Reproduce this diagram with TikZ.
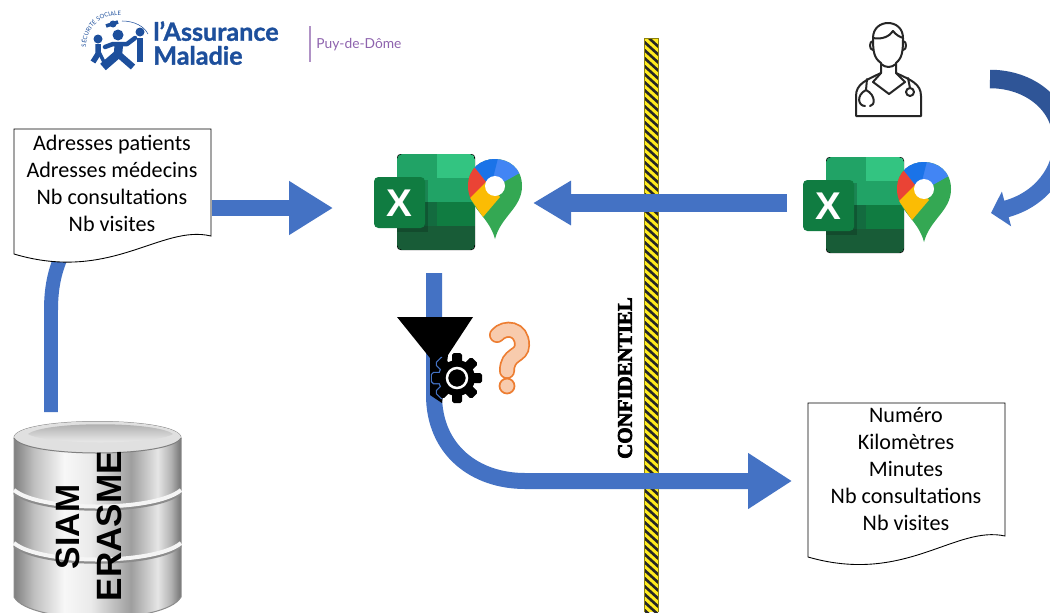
\documentclass[tikz,border=0pt]{standalone}
\usepackage{fontspec}
\setmainfont{Carlito}
\newfontfamily\logofont{Lato}
\newfontfamily\logofat[FakeBold=1.2]{Lato}
\newfontfamily\dbfont{Liberation Sans}
\newfontfamily\fatfont[FakeBold=3.6]{Liberation Serif}
\usetikzlibrary{arrows.meta,decorations.text}
\definecolor{arrowblue}{HTML}{4472C4}
\definecolor{arrowdark}{HTML}{2F5597}
\definecolor{logoblue}{HTML}{1D4F9C}
\definecolor{logopurple}{HTML}{8E63AE}
\definecolor{hazardyellow}{HTML}{FFEB1E}
\definecolor{askline}{HTML}{ED7D31}
\definecolor{askfill}{HTML}{F8CBAD}
\pgfdeclarehorizontalshading{silverdb}{100bp}{
	color(0bp)=(black!50); color(25bp)=(black!50); color(31bp)=(black!25);
	color(40bp)=(black!3); color(48bp)=(black!8); color(60bp)=(black!38);
	color(68bp)=(black!10); color(72bp)=(black!30); color(75bp)=(black!55); color(100bp)=(black!55)}
\tikzset{
	bigarrow/.style={draw=arrowblue,line width=.32cm},
	paper/.style={draw=black,fill=white,line width=.5pt},
	papertext/.style={align=center,font=\fontsize{12.6}{15.4}\selectfont},
	dbtext/.style={rotate=90,font=\dbfont\bfseries\fontsize{20}{20}\selectfont},
	docline/.style={draw=black!85,line width=.04cm,line cap=round,line join=round},
	excelmaps/.pic={
		\fill[rounded corners=2pt,fill=black] (0,0) rectangle (78,96);
		\begin{scope}
			\clip[rounded corners=3pt] (0,0) rectangle (78,96);
			\fill[fill={rgb,255:red,33;green,163;blue,102}] (0,0) rectangle (40,48);
			\fill[fill={rgb,255:red,51;green,196;blue,129}] (40,0) rectangle (78,24);
			\fill[fill={rgb,255:red,33;green,163;blue,102}] (40,24) rectangle (78,48);
			\fill[fill={rgb,255:red,19;green,107;blue,63}] (0,48) rectangle (40,72);
			\fill[fill={rgb,255:red,16;green,124;blue,65}] (40,48) rectangle (78,72);
			\fill[fill={rgb,255:red,24;green,92;blue,55}] (0,72) rectangle (78,96);
			\fill[black,opacity=.18] (0,26) rectangle (31,78);
		\end{scope}
		\fill[rounded corners=2.5pt,fill={rgb,255:red,16;green,124;blue,65}] (-23,23) rectangle (28,74);
		\node (excelx) [white,font=\dbfont\bfseries\fontsize{22}{22}\selectfont] at (2.5,49) {X};
		\begin{scope}[shift={(98,32)}]
			\begin{scope}
				\clip (-27,0) .. controls (-27,-36) and (27,-36) .. (27,0) .. controls (27,22) and (6,30) .. (0,53) .. controls (-6,30) and (-27,22) .. (-27,0) -- cycle;
				\fill[fill={rgb,255:red,52;green,168;blue,83}] (-30,-30) rectangle (30,55);
				\fill[fill={rgb,255:red,66;green,133;blue,244}] (-20,-18) -- (-9,-4) -- (0,0) -- (7,-3) -- (30,-16) -- (30,-40) -- (-25,-40) -- cycle;
				\fill[fill={rgb,255:red,26;green,115;blue,232}] (-20,-18) -- (-9,-4) -- (-2,-8) -- (6,-40) -- (-25,-40) -- cycle;
				\fill[fill={rgb,255:red,234;green,67;blue,53}] (-20,-18) -- (-9,-4) -- (-25,14) -- (-35,10) -- (-35,-20) -- cycle;
				\fill[fill={rgb,255:red,251;green,188;blue,4}] (-25,12) -- (-9,-4) -- (5,11) -- (-12,31) -- cycle;
			\end{scope}
			\fill[white] (0,0) circle (10);
		\end{scope}
	}
}
\begin{document}
\begin{tikzpicture}[x=.02cm,y=-.02cm]
	\useasboundingbox (0,0) rectangle (1050,612);
	\clip (0,0) rectangle (1050,612);
	\fill[white] (0,0) rectangle (1050,612);

	% logo
	\begin{scope}[logoblue]
		\fill (118,35) circle (5.5);
		\fill (140,32) circle (4.5);
		\fill (98,39) circle (4.5);
		\fill (113,24) circle (3.5);
		\draw[line width=.09cm,line cap=round,line join=round] (105,47) -- (113,44) -- (127,44) -- (135,38);
		\draw[line width=.17cm,line join=round] (119,43) -- (118,54) -- (103,67);
		\draw[line width=.13cm,line join=round] (118,54) -- (133,67);
		\draw[line width=.13cm] (140,38) -- (140,62);
		\draw[line width=.11cm] (98,44) -- (98,54) -- (93,62);
		\draw[line width=.07cm] (98,50) -- (104,62);
		\draw[line width=.07cm] (106,26) -- (118,22);
		\draw[line width=.3pt] (122,21) .. controls (134,21) and (144,26) .. (148,34);
	\end{scope}
	\path[decorate,decoration={text along path,text={|\logofont\fontsize{3.4}{3.4}\selectfont\color{logoblue}|SÉCURITÉ SOCIALE},text align=center}]
		(86,46) .. controls (87,28) and (100,15) .. (120,15);
	\node (assurance) [anchor=north west,inner sep=0pt,align=left,text=logoblue,font=\logofat\bfseries\fontsize{14.3}{13.6}\selectfont] at (153,21) {l’Assurance\\Maladie};
	\draw[logopurple!70,line width=.03cm] (310,26) -- (310,62);
	\node (puy) [anchor=west,inner sep=0pt,text=logopurple,font=\logofont\fontsize{7.85}{10}\selectfont] at (316,45) {Puy-de-Dôme};

	% confidentiel
	\fill[hazardyellow] (644,38) rectangle (658,612);
	\begin{scope}
		\clip (644,38) rectangle (658,612);
		\foreach \i in {0,...,72}{
			\draw[black!85,line width=.052cm] (640,30+\i*8) -- (662,50+\i*8);
		}
	\end{scope}
	\draw[black!45!hazardyellow,line width=.02cm] (644,38) -- (644,612) (658,612) -- (658,38) -- (644,38);
	\node (conf) [rotate=90,inner sep=0pt,font=\fatfont\bfseries\fontsize{11.9}{12}\selectfont] at (625,378) {CONFIDENTIEL};

	% base
	\draw[arrowblue,line width=.28cm] (51,412) -- (51,310) .. controls (51,290) and (54,272) .. (62,255);
	\path[shading=silverdb,draw=black!45,line width=.02cm] (14,438) -- (14,597) .. controls (30,625) and (165,625) .. (181,597) -- (181,438) .. controls (181,416) and (14,416) .. (14,438) -- cycle;
	\fill[black!12] (14,438) .. controls (25,458) and (170,458) .. (181,438) .. controls (181,416) and (14,416) .. (14,438) -- cycle;
	\draw[black!50,line width=.02cm] (14,438) .. controls (25,458) and (170,458) .. (181,438);
	\shade[top color=black!35,bottom color=black!5] (28,434) .. controls (45,421) and (156,421) .. (173,434) .. controls (156,445) and (45,445) .. (28,434) -- cycle;
	\foreach \y in {490,543}{
		\draw[black!45,line width=.05cm] (14,\y+3) .. controls (40,\y+25) and (155,\y+25) .. (181,\y+3);
		\draw[black!4,line width=.08cm] (14,\y) .. controls (40,\y+22) and (155,\y+22) .. (181,\y);
	}
	\node (siam) [dbtext,font=\dbfont\bfseries\fontsize{19.2}{20}\selectfont] at (68,527) {SIAM};
	\node (erasme) [dbtext] at (109,526) {ERASME};

	% entree
	\draw[paper] (14,129) -- (211,129) -- (211,236) .. controls (161,224) and (111,283) .. (14,254) -- cycle;
	\node (docin) [papertext] at (112,183) {Adresses patients\\Adresses médecins\\Nb consultations\\Nb visites};

	% sortie
	\draw[paper] (808,403) -- (1005,403) -- (1005,536) .. controls (955,525) and (905,585) .. (808,557) -- cycle;
	\node (docout) [papertext] at (906,469) {Numéro\\Kilomètres\\Minutes\\Nb consultations\\Nb visites};

	\pic at (397,154) {excelmaps};
	\pic at (826,157) {excelmaps};

	\coordinate (inA) at (212,208);
	\coordinate (inB) at (333,208);
	\coordinate (medA) at (787,203);
	\coordinate (medB) at (533,203);
	\coordinate (filterA) at (434,273);
	\coordinate (filterB) at (792,481);
	\draw[bigarrow,-{Triangle[length=.88cm,width=1.02cm]}] (inA) -- (inB);
	\draw[bigarrow,line width=.36cm,-{Triangle[length=.76cm,width=.84cm]}] (medA) -- (medB);
	\draw[bigarrow,-{Triangle[length=.88cm,width=1.06cm]}] (filterA) -- (434,395) .. controls (434,450) and (475,481) .. (525,481) -- (filterB);

	% boucle
	\coordinate (loopA) at (990,79);
	\coordinate (loopM) at (1062,140);
	\coordinate (loopB) at (991,213);
	\draw[arrowdark,line width=.37cm] (loopA) .. controls (1030,79) and (1062,105) .. (loopM);
	\draw[arrowblue,line width=.34cm,-{Triangle[length=.32cm,width=.7cm]}] (loopM) .. controls (1062,172) and (1040,200) .. (loopB);

	% filtre
	\fill[black,line join=round] (397,317) -- (473,317) -- (448,355) -- (442,403) -- (430,395) -- (430,358) -- cycle;
	\begin{scope}[shift={(457,378)}]
		\begin{scope}
			\clip (-30,-30) rectangle (-15,30);
			\foreach \a in {0,45,...,135}{
				\draw[rotate=\a,arrowblue,line width=.05cm,rounded corners=1pt] (-5,-25) rectangle (5,25);
			}
			\draw[arrowblue,line width=.05cm] (0,0) circle (18);
		\end{scope}
		\fill[black] (0,0) circle (18);
		\foreach \a in {0,45,...,135}{
			\fill[rotate=\a,black,rounded corners=1pt] (-5,-25) rectangle (5,25);
		}
		\draw[white,line width=.05cm] (0,0) circle (10);
	\end{scope}

	% question
	\draw[askline,line width=.32cm,line cap=round] (497,335) .. controls (505,326) and (522,328) .. (522,345) .. controls (522,357) and (507,353) .. (507,371);
	\draw[askfill,line width=.25cm,line cap=round] (497,335) .. controls (505,326) and (522,328) .. (522,345) .. controls (522,357) and (507,353) .. (507,371);
	\draw[askline,fill=askfill,line width=.035cm] (507,386) circle (7.5);

	% medecin
	\draw[docline,fill=white] (856,116) -- (856,96) .. controls (856,84) and (866,80) .. (881,73) -- (881,63) .. controls (874,58) and (873,52) .. (873,38) .. controls (873,18) and (903,18) .. (903,38) .. controls (903,52) and (902,58) .. (896,63) -- (896,73) .. controls (911,80) and (921,84) .. (921,96) -- (921,116) -- cycle;
	\draw[docline] (873,38) .. controls (882,40) and (890,36) .. (893,31) .. controls (896,35) and (900,37) .. (903,38);
	\draw[docline] (873,41) .. controls (869,41) and (869,50) .. (873,50) (903,41) .. controls (907,41) and (907,50) .. (903,50);
	\draw[docline] (881,73) -- (873,82) -- (889,94) -- (905,82) -- (896,73) (881,64) .. controls (886,68) and (891,68) .. (896,64);
	\draw[docline] (867,79) -- (866,90) .. controls (856,95) and (858,106) .. (865,106) (866,90) .. controls (876,95) and (875,106) .. (870,106);
	\draw[docline] (908,78) -- (910,88) (910,92) circle (4);
\end{tikzpicture}
\end{document}
